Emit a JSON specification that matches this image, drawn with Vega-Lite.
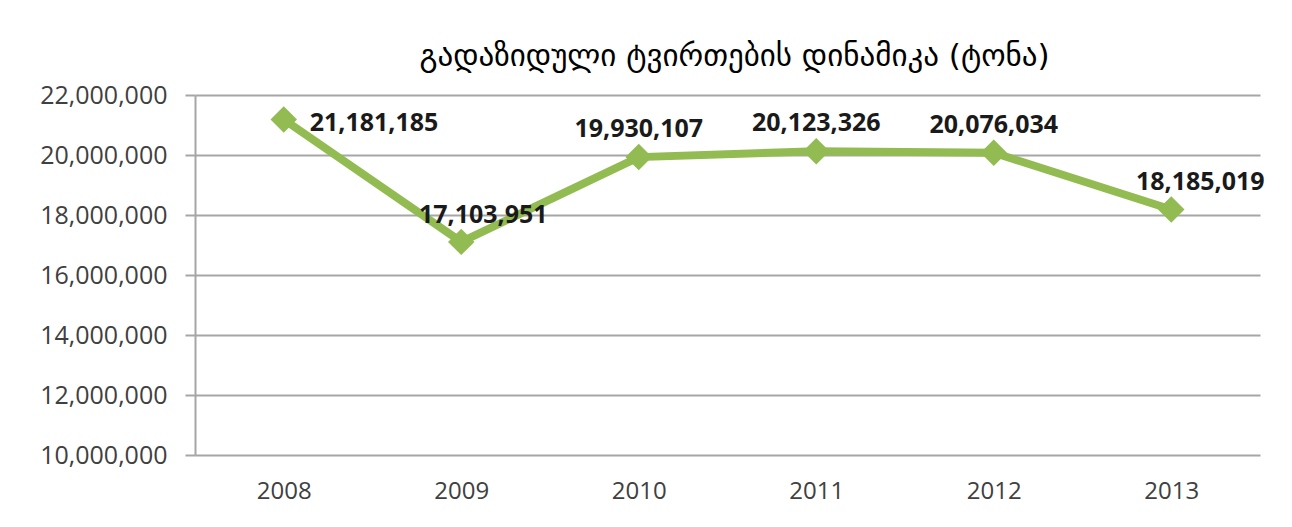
{
  "$schema": "https://vega.github.io/schema/vega-lite/v6.json",
  "autosize": "none",
  "width": 1065,
  "height": 360,
  "padding": {"left": 195, "top": 95, "right": 32, "bottom": 72},
  "background": "white",
  "config": {"view": {"stroke": null}},
  "title": {
    "text": "გადაზიდული ტვირთების დინამიკა (ტონა)",
    "font": "DejaVu Sans",
    "fontSize": 31,
    "fontWeight": "normal",
    "color": "#000000",
    "anchor": "middle",
    "dx": 7,
    "offset": 10
  },
  "data": {
    "values": [
      {"year": "2008", "tons": 21181185},
      {"year": "2009", "tons": 17103951},
      {"year": "2010", "tons": 19930107},
      {"year": "2011", "tons": 20123326},
      {"year": "2012", "tons": 20076034},
      {"year": "2013", "tons": 18185019}
    ]
  },
  "encoding": {
    "x": {
      "field": "year",
      "type": "ordinal",
      "scale": {"type": "point", "padding": 0.5},
      "axis": {
        "title": null,
        "labelAngle": 0,
        "ticks": false,
        "domain": false,
        "labelFont": "Open Sans",
        "labelFontSize": 24,
        "labelColor": "#404040",
        "labelPadding": 24
      }
    },
    "y": {
      "field": "tons",
      "type": "quantitative",
      "scale": {"domain": [10000000, 22000000], "nice": false, "zero": false},
      "axis": {
        "title": null,
        "values": [10000000, 12000000, 14000000, 16000000, 18000000, 20000000, 22000000],
        "format": ",.0f",
        "labelFont": "Open Sans",
        "labelFontSize": 25,
        "labelColor": "#404040",
        "labelPadding": 18,
        "tickSize": 10,
        "tickColor": "#A6A6A6",
        "tickWidth": 2,
        "domainColor": "#A6A6A6",
        "domainWidth": 2,
        "gridColor": "#A6A6A6",
        "gridWidth": 2
      }
    }
  },
  "layer": [
    {
      "mark": {"type": "line", "color": "#92BB52", "strokeWidth": 8},
      "encoding": {}
    },
    {
      "mark": {"type": "point", "shape": "diamond", "filled": true, "color": "#92BB52", "opacity": 1, "size": 700},
      "encoding": {}
    },
    {
      "transform": [{"filter": "datum.year == '2008'"}],
      "mark": {"type": "text", "align": "left", "baseline": "middle", "dx": 26, "dy": 3, "font": "Open Sans", "fontSize": 25, "fontWeight": "bold", "color": "#1a1a1a"},
      "encoding": {"text": {"field": "tons", "type": "quantitative", "format": ",.0f"}}
    },
    {
      "transform": [{"filter": "datum.year == '2009'"}],
      "mark": {"type": "text", "align": "center", "baseline": "middle", "dx": 22, "dy": -27, "font": "Open Sans", "fontSize": 25, "fontWeight": "bold", "color": "#1a1a1a"},
      "encoding": {"text": {"field": "tons", "type": "quantitative", "format": ",.0f"}}
    },
    {
      "transform": [{"filter": "datum.year == '2013'"}],
      "mark": {"type": "text", "align": "center", "baseline": "middle", "dx": 29, "dy": -27, "font": "Open Sans", "fontSize": 25, "fontWeight": "bold", "color": "#1a1a1a"},
      "encoding": {"text": {"field": "tons", "type": "quantitative", "format": ",.0f"}}
    },
    {
      "transform": [{"filter": "datum.year == '2010' || datum.year == '2011' || datum.year == '2012'"}],
      "mark": {"type": "text", "align": "center", "baseline": "middle", "dy": -28, "font": "Open Sans", "fontSize": 25, "fontWeight": "bold", "color": "#1a1a1a"},
      "encoding": {"text": {"field": "tons", "type": "quantitative", "format": ",.0f"}}
    }
  ]
}
